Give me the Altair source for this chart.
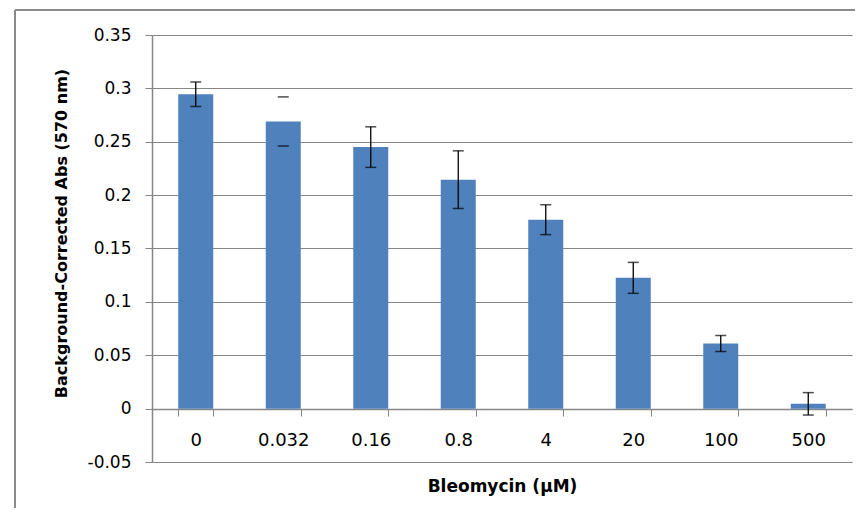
import altair as alt
import pandas as pd

# ---- data ----
doses = ["0", "0.032", "0.16", "0.8", "4", "20", "100", "500"]
means = [0.2945, 0.269, 0.245, 0.2145, 0.177, 0.1225, 0.061, 0.0045]
errors = [0.0115, 0.023, 0.019, 0.027, 0.014, 0.0145, 0.0075, 0.0105]
y_ticks = [-0.05, 0, 0.05, 0.1, 0.15, 0.2, 0.25, 0.3, 0.35]

df = pd.DataFrame({"dose": doses, "mean": means, "err": errors})
df["lo"] = df["mean"] - df["err"]
df["hi"] = df["mean"] + df["err"]

GRAY = "#868686"
LABEL_FONT = "DejaVu Sans"

x_enc = alt.X(
    "dose:N",
    sort=doses,
    scale=alt.Scale(paddingInner=0.6, paddingOuter=0.3),
    axis=alt.Axis(
        orient="bottom",
        offset=-53,
        labelAngle=0,
        labelFont=LABEL_FONT,
        labelFontSize=18,
        labelColor="#000000",
        labelPadding=15,
        labelBaseline="top",
        tickBand="extent",
        tickColor=GRAY,
        tickSize=7,
        domainColor=GRAY,
        domainWidth=1.5,
        title="Bleomycin (µM)",
        titleFont=LABEL_FONT,
        titleFontSize=17,
        titleFontWeight="bold",
        titleColor="#000000",
        titlePadding=29,
    ),
)

y_scale = alt.Scale(domain=[-0.05, 0.35], nice=False, zero=False)

y_axis = alt.Axis(
    values=y_ticks,
    labelExpr="replace(format(datum.value, '.2~f'), '\u2212', '-')",
    labelFont=LABEL_FONT,
    labelFontSize=17,
    labelColor="#000000",
    labelPadding=14,
    tickColor=GRAY,
    tickSize=7,
    domainColor=GRAY,
    domainWidth=1.5,
    grid=True,
    gridColor=GRAY,
    gridWidth=1.2,
    title="Background-Corrected Abs (570 nm)",
    titleFont=LABEL_FONT,
    titleFontSize=16,
    titleFontWeight="bold",
    titleColor="#000000",
    titleX=-91,
    titleY=198,
    titleBaseline="middle",
)

base = alt.Chart(df)

bars = base.mark_bar(color="#4F81BD").encode(
    x=x_enc,
    y=alt.Y("mean:Q", scale=y_scale, axis=y_axis),
)

whiskers = base.transform_filter(alt.datum.dose != "0.032").mark_rule(
    color="#000000", strokeWidth=1.3
).encode(
    x=alt.X("dose:N", sort=doses),
    y=alt.Y("lo:Q"),
    y2="hi:Q",
)

cap_lo = base.mark_tick(color="#000000", thickness=1.5, size=11).encode(
    x=alt.X("dose:N", sort=doses),
    y=alt.Y("lo:Q"),
)
cap_hi = base.mark_tick(color="#000000", thickness=1.5, size=11).encode(
    x=alt.X("dose:N", sort=doses),
    y=alt.Y("hi:Q"),
)

frame_df = pd.DataFrame({"k": [0]})
frame_left = alt.Chart(frame_df).mark_rule(color="#8a8a8a", strokeWidth=2).encode(
    x=alt.value(-137), y=alt.value(-25), y2=alt.value(480)
)
frame_top = alt.Chart(frame_df).mark_rule(color="#8a8a8a", strokeWidth=2).encode(
    x=alt.value(-137), x2=alt.value(720), y=alt.value(-25)
)

chart = (
    alt.layer(bars, whiskers, cap_lo, cap_hi, frame_left, frame_top)
    .properties(
        width=700,
        height=427,
        autosize=alt.AutoSizeParams(type="none"),
        padding={"left": 144, "top": 27, "right": 3, "bottom": 46},
        background="#ffffff",
    )
    .configure_view(strokeWidth=0)
)

chart.save("out.html", embed_options={"renderer": "svg", "actions": False})
